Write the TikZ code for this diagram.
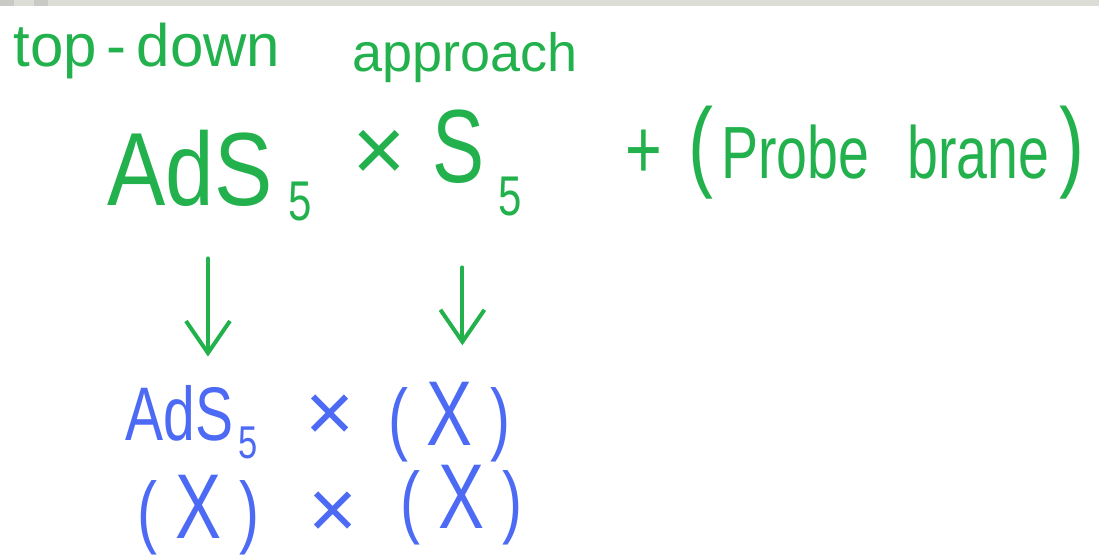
\documentclass[tikz,border=0pt]{standalone}
\usepackage{fontspec}
\setmainfont{Liberation Sans}
\newfontfamily\narrowfont[FakeStretch=0.75]{Liberation Sans}
\newfontfamily\wideadsfont[FakeStretch=0.84]{Liberation Sans}
\usetikzlibrary{arrows.meta,positioning}
\definecolor{pgreen}{RGB}{34,177,76}
\definecolor{pblue}{RGB}{76,106,244}
\definecolor{pbar}{RGB}{221,221,216}
\definecolor{pbardark}{RGB}{201,201,197}
\newcommand{\fs}[1]{\fontsize{#1}{#1}\selectfont}
\newcommand{\bigX}{(\hspace{9pt}{\fs{46}X}\hspace{9pt})}

\begin{document}
\begin{tikzpicture}[x=0.5pt,y=-0.5pt,
  txt/.style={inner sep=0pt,anchor=base west,text=pgreen},
  btxt/.style={txt,text=pblue},
  arr/.style={-{Straight Barb[length=16pt,width=22pt]},line width=2pt,pgreen,line cap=round}]
  \useasboundingbox (0,0) rectangle (1099,557);
  % window edge
  \fill[pbar] (0,0) rectangle (1099,6);
  \fill[pbardark] (0,0) rectangle (14,6);
  \fill[pbardark] (34,0) rectangle (48,6);
  % Title
  \node[txt,font=\fs{30}] (title) at (13,67) {top\,-\,down};
  \node[txt,font=\fs{27}] (appr) at (352,71) {approach};
  % Background
  \node[txt,font={\wideadsfont\fs{52}}] (ads) at (107,205) {AdS};
  \node[txt,font={\narrowfont\fs{28}}] (adssub) at (288,220) {5};
  \node[txt,anchor=center,font=\fs{46}] (times) at (379,156) {×};
  \node[txt,font={\narrowfont\fs{52}}] (sfive) at (432,182) {S};
  \node[txt,font={\narrowfont\fs{28}}] (ssub) at (498,215) {5};
  \node[txt,font={\narrowfont\fs{37}}] (probe) at (625,178)
    {{\fs{42}+}\hspace{13pt}{\fs{50}(}\hspace{4pt}Probe\hspace{19pt}brane\hspace{5pt}{\fs{50})}};
  % Replacements
  \node[btxt,font={\narrowfont\fs{38}}] (adsb) at (125,440) {AdS};
  \node[btxt,font={\narrowfont\fs{23}}] (adsbsub) at (238,458) {5};
  \node[btxt,anchor=center,font=\fs{42}] (timesa) at (330,418) {×};
  \node[btxt,font={\narrowfont\fs{40}}] (xone) at (388,445) {\bigX};
  \node[btxt,font={\narrowfont\fs{40}}] (xtwo) at (137,538) {\bigX};
  \node[btxt,anchor=center,font=\fs{42}] (timesb) at (333,515) {×};
  \node[btxt,font={\narrowfont\fs{40}}] (xthree) at (400,528) {\bigX};
  % Arrows
  \draw[arr,shorten <=26pt,shorten >=14pt] ([xshift=9pt]ads.south) -- ([xshift=9pt]ads.south |- adsb.north);
  \draw[arr,shorten <=42pt,shorten >=18pt] ([xshift=2pt]sfive.south) -- ([xshift=2pt]sfive.south |- xone.north);
\end{tikzpicture}
\end{document}
